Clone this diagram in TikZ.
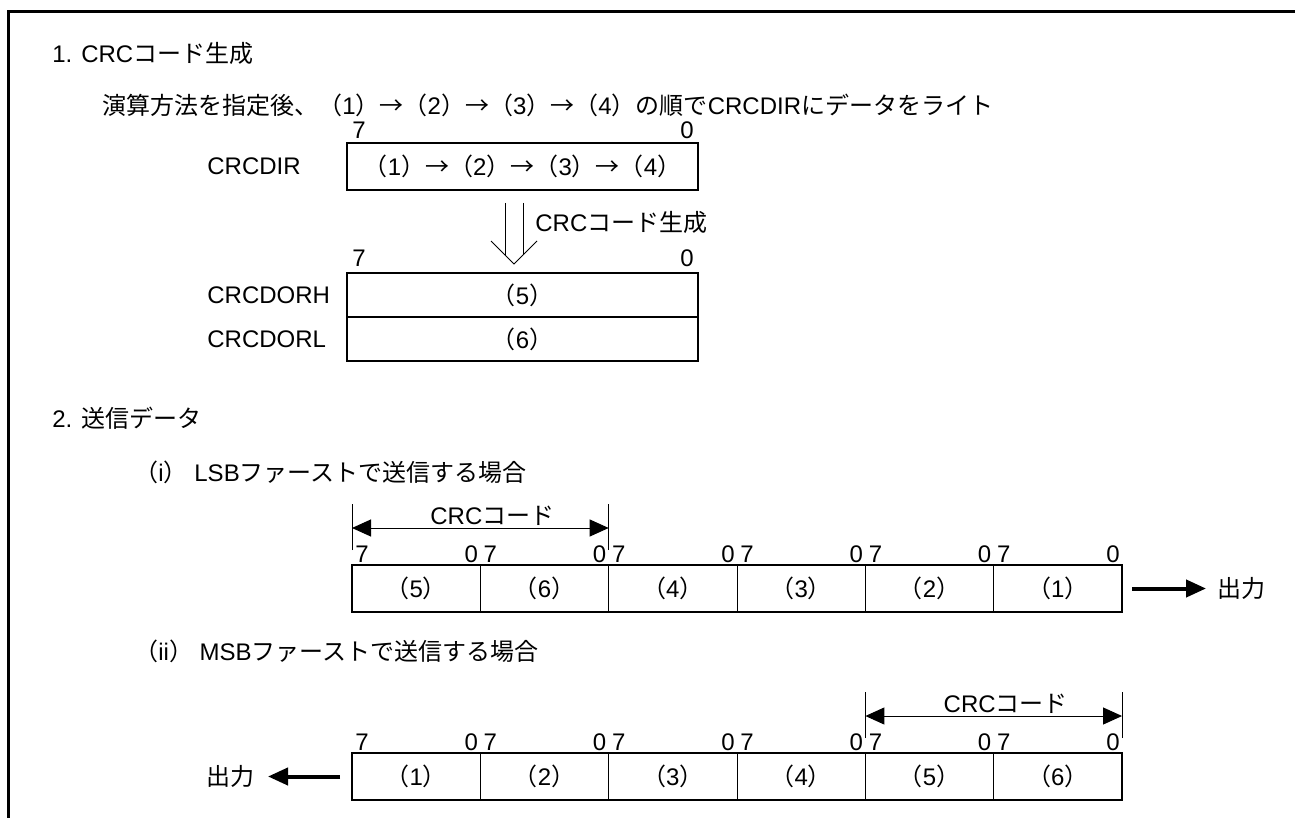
\documentclass[tikz,border=0pt]{standalone}
\usepackage{fontspec}
\setmainfont{Liberation Sans}
\newfontfamily\jpfont{Noto Sans CJK JP}
% Japanese characters switch to the CJK font by themselves
\XeTeXinterchartokenstate=1
\newXeTeXintercharclass\jpclass
\newcount\jpcode
\newcommand\setjpclass[2]{\jpcode=#1\relax
  \loop\XeTeXcharclass\jpcode=\jpclass
  \ifnum\jpcode<#2\relax\advance\jpcode by 1\repeat}
\setjpclass{"2190}{"2193}
\setjpclass{"3000}{"30FF}
\setjpclass{"4E00}{"9FFF}
\setjpclass{"FF00}{"FFEF}
\XeTeXinterchartoks 0 \jpclass = {\jpfont}
\XeTeXinterchartoks 4095 \jpclass = {\jpfont}
\XeTeXinterchartoks \jpclass 0 = {\rmfamily}
\XeTeXinterchartoks \jpclass 4095 = {\rmfamily}
\usetikzlibrary{arrows.meta,positioning,calc}

\begin{document}
\begin{tikzpicture}[x=0.5pt,y=-0.5pt,font=\fontsize{12}{14}\selectfont,
  txt/.style={inner sep=0pt,anchor=west},
  reg/.style={draw,line width=1pt,minimum width=175.5pt,outer sep=0pt,inner sep=0pt},
  cell/.style={draw,line width=0.5pt,minimum width=64.17pt,minimum height=23.5pt,
    outer sep=0pt,inner sep=0pt},
  bitno/.style={inner sep=0pt},
  bits/.style n args={3}{label={[bitno,anchor=base west,xshift=#1,yshift=#3]north west:7},
    label={[bitno,anchor=base east,xshift=-#2,yshift=#3]north east:0}},
  crcspan/.style={line width=0.5pt,
    {Triangle[length=9.5pt,width=8.5pt]}-{Triangle[length=9.5pt,width=8.5pt]}},
  outflow/.style={line width=2pt,-{Triangle[length=10pt,width=8.5pt]}}]
\useasboundingbox (0,0) rectangle (1295,818);
\draw[line width=1.5pt] (8,818) -- (8,11.5) -- (1295,11.5);

% 1. CRC code generation
\node[txt] (h1) at (52,53) {1. CRCコード生成};
\node[txt] (order) at (102,105) {演算方法を指定後、（1）→（2）→（3）→（4）の順でCRCDIRにデータをライト};

\node[reg,minimum height=23.5pt,bits={2.5pt}{2pt}{2.25pt}] (dir) at (522.5,166.5)
  {（1）→（2）→（3）→（4）};
\node[reg,minimum height=22pt,bits={2.5pt}{2pt}{3.5pt},below=41.5pt of dir] (dorh) {（5）};
\node[reg,minimum height=22pt,below=0pt of dorh] (dorl) {（6）};

\coordinate (lblx) at (207,0);
\node[txt] (dirname) at (dir.west -| lblx) {CRCDIR};
\node[txt] (dorhname) at (dorh.west -| lblx) {CRCDORH};
\node[txt] (dorlname) at (dorl.west -| lblx) {CRCDORL};

\coordinate (gtop) at ($(dir.south)+(-8.5,13)$);
\coordinate (gtip) at ($(dorh.north)+(-8.5,-9)$);
\draw[line width=0.5pt] ($(gtop)+(-9,0)$) -- ($(gtip)+(-9,-9)$);
\draw[line width=0.5pt] ($(gtop)+(9,0)$) -- ($(gtip)+(9,-9)$);
\draw[line width=0.5pt] ($(gtip)+(-23,-23)$) -- (gtip) -- ($(gtip)+(23,-23)$);
\node[txt] (genlbl) at ($(gtop)+(21,19)$) {CRCコード生成};

% 2. transmit data
\node[txt] (h2) at (52,418) {2. 送信データ};

% (i) LSB first
\node[txt] (lsbhead) at (134,472) {（i） LSBファーストで送信する場合};
\node[cell,bits={1.5pt}{1pt}{1.5pt}] (a1) at (416.17,588.5) {（5）};
\node[cell,bits={1.5pt}{1pt}{1.5pt},right=0pt of a1] (a2) {（6）};
\node[cell,bits={1.5pt}{1pt}{1.5pt},right=0pt of a2] (a3) {（4）};
\node[cell,bits={1.5pt}{1pt}{1.5pt},right=0pt of a3] (a4) {（3）};
\node[cell,bits={1.5pt}{1pt}{1.5pt},right=0pt of a4] (a5) {（2）};
\node[cell,bits={1.5pt}{1pt}{1.5pt},right=0pt of a5] (a6) {（1）};
\draw[line width=1pt] (a1.north west) rectangle (a6.south east);
\draw[line width=0.5pt] ($(a1.north west)+(0,-15)$) -- ($(a1.north west)+(0,-61)$);
\draw[line width=0.5pt] ($(a2.north east)+(0,-15)$) -- ($(a2.north east)+(0,-61)$);
\draw[crcspan] ($(a1.north west)+(0,-37)$) --
  node[above=1pt,xshift=6pt,inner sep=0pt] {CRCコード} ($(a2.north east)+(0,-37)$);
\node[txt,right=47.5pt of a6] (lsbout) {出力};
\draw[outflow,shorten <=5pt,shorten >=5.5pt] (a6.east) -- (lsbout.west);

% (ii) MSB first
\node[txt] (msbhead) at (134,651) {（ii） MSBファーストで送信する場合};
\node[cell,bits={1.5pt}{1pt}{1.5pt}] (b1) at (416.17,776.5) {（1）};
\node[cell,bits={1.5pt}{1pt}{1.5pt},right=0pt of b1] (b2) {（2）};
\node[cell,bits={1.5pt}{1pt}{1.5pt},right=0pt of b2] (b3) {（3）};
\node[cell,bits={1.5pt}{1pt}{1.5pt},right=0pt of b3] (b4) {（4）};
\node[cell,bits={1.5pt}{1pt}{1.5pt},right=0pt of b4] (b5) {（5）};
\node[cell,bits={1.5pt}{1pt}{1.5pt},right=0pt of b5] (b6) {（6）};
\draw[line width=1pt] (b1.north west) rectangle (b6.south east);
\draw[line width=0.5pt] ($(b5.north west)+(0,-15)$) -- ($(b5.north west)+(0,-61)$);
\draw[line width=0.5pt] ($(b6.north east)+(0,-15)$) -- ($(b6.north east)+(0,-61)$);
\draw[crcspan] ($(b5.north west)+(0,-37)$) --
  node[above=1pt,xshift=6pt,inner sep=0pt] {CRCコード} ($(b6.north east)+(0,-37)$);
\node[txt,left=48.5pt of b1] (msbout) {出力};
\draw[outflow,shorten <=6pt,shorten >=6.5pt] (b1.west) -- (msbout.east);
\end{tikzpicture}
\end{document}
